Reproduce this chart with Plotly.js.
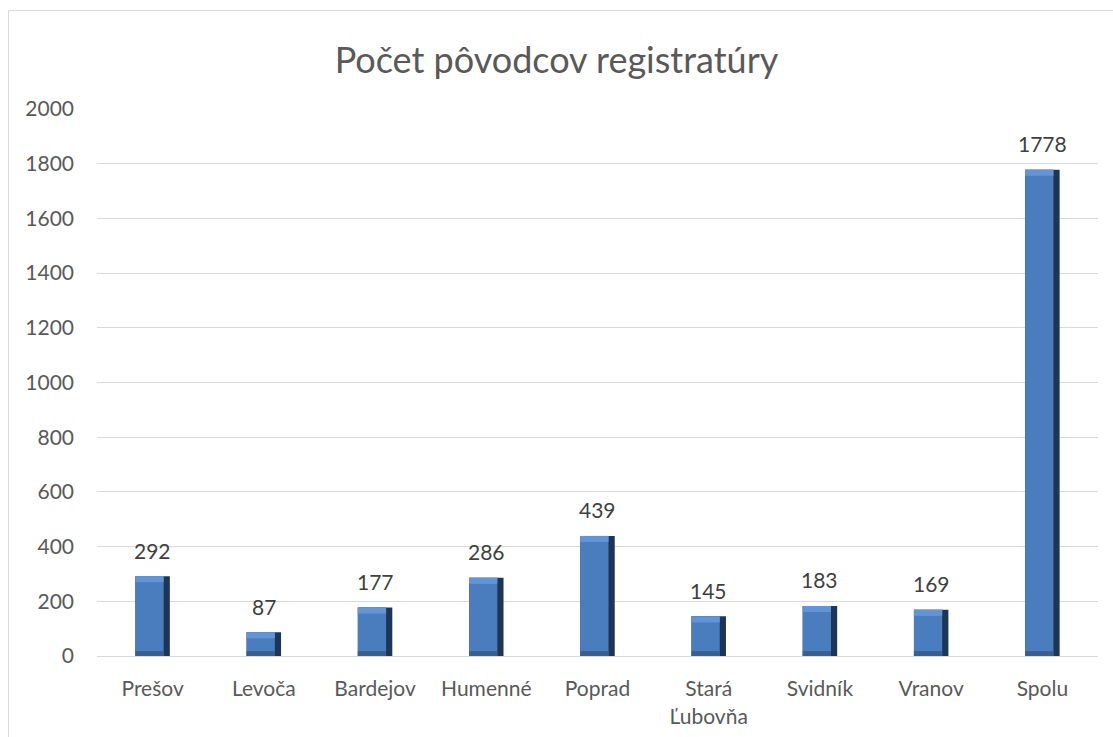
<!DOCTYPE html>
<html>
<head>
<meta charset="utf-8">
<script src="https://cdn.plot.ly/plotly-3.0.1.min.js"></script>
<style>html,body{margin:0;padding:0;background:#fff;}#chart{width:1113px;height:737px;}</style>
</head>
<body>
<div id="chart"></div>
<script>
const categories = ['Prešov','Levoča','Bardejov','Humenné','Poprad','Stará<br>Ľubovňa','Svidník','Vranov','Spolu'];
const values = [292, 87, 177, 286, 439, 145, 183, 169, 1778];
const chartTitle = 'Počet pôvodcov registratúry';

const W = 0.31;
const FONT = 'Lato, "Liberation Sans", sans-serif';
const topBand = values.map(() => 22);
const topBase = values.map(v => v - 22);
const botBand = values.map(() => 18);

const traces = [
  {type:'bar', x:categories, y:values, width:W, offset:-W/2,
   marker:{color:'#1d3656'}, hoverinfo:'skip'},
  {type:'bar', x:categories, y:values, width:W*0.82, offset:-W/2,
   marker:{color:'#4a7dbe'}, hoverinfo:'skip'},
  {type:'bar', x:categories, y:topBand, base:topBase, width:W*0.82, offset:-W/2,
   marker:{color:'#6395d6'}, hoverinfo:'skip'},
  {type:'bar', x:categories, y:botBand, base:0, width:W*0.82, offset:-W/2,
   marker:{color:'#375f92'}, hoverinfo:'skip'}
];

const annotations = categories.map((c, i) => ({
  x: c, y: values[i], xref:'x', yref:'y', text: String(values[i]),
  showarrow:false, yanchor:'middle', yshift:26,
  font:{family:FONT, size:21, color:'#404040'}
}));

const layout = {
  width:1113, height:737,
  margin:{l:97, r:15, t:109, b:81},
  paper_bgcolor:'#ffffff', plot_bgcolor:'rgba(0,0,0,0)',
  barmode:'overlay', showlegend:false,
  title:{text:chartTitle, x:0.5, xanchor:'center', y:1-60/737, yanchor:'middle', yref:'container',
         font:{family:FONT, size:36, color:'#595959'}},
  xaxis:{type:'category', showgrid:false, showline:true, linecolor:'#d9d9d9', linewidth:1,
         ticks:'', ticklabelstandoff:14,
         tickfont:{family:FONT, size:21, color:'#595959'}, fixedrange:true},
  yaxis:{range:[0,2000], dtick:200, showgrid:true, gridcolor:'#d9d9d9', gridwidth:1,
         zeroline:false, showline:false, ticks:'', ticklabelstandoff:22,
         tickfont:{family:FONT, size:21, color:'#595959'}, fixedrange:true},
  annotations: annotations,
  shapes:[{type:'rect', xref:'paper', yref:'paper', x0:(8.5-97)/1001, x1:1.2,
           y0:-0.3, y1:1+(109-10.5)/547, line:{color:'#d9d9d9', width:1}, layer:'below'}]
};

Plotly.newPlot('chart', traces, layout, {displayModeBar:false, staticPlot:true});
</script>
</body>
</html>
